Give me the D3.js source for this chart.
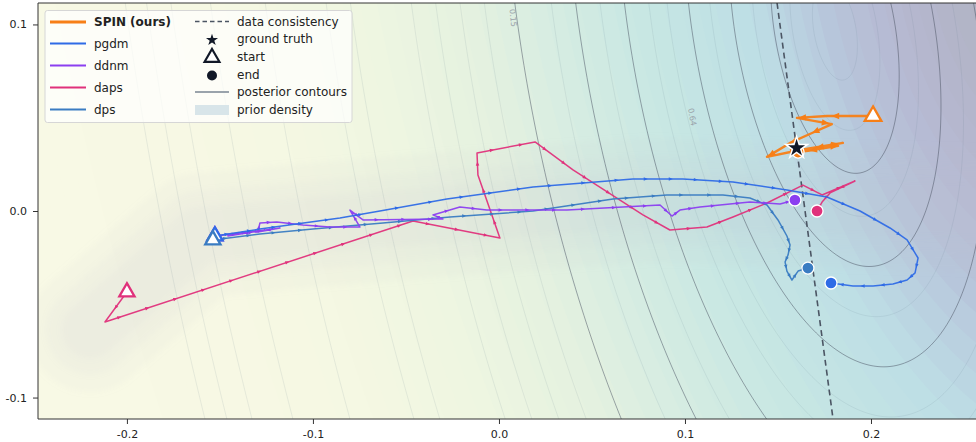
<!DOCTYPE html>
<html><head><meta charset="utf-8">
<script src="https://cdn.jsdelivr.net/npm/d3@7/dist/d3.min.js"></script>
<style>body{margin:0;background:#fff;} svg{display:block;font-family:"DejaVu Sans",sans-serif;}</style>
</head><body><svg id="c" width="976" height="442"></svg>
<script>
// ---------- data ----------
const xTicks = [-0.2, -0.1, 0.0, 0.1, 0.2];
const xTickLabels = ["-0.2", "-0.1", "0.0", "0.1", "0.2"];
const yTicks = [-0.1, 0.0, 0.1];
const yTickLabels = ["-0.1", "0.0", "0.1"];

const methods = ["SPIN (ours)", "pgdm", "ddnm", "daps", "dps"];
const methodColors = ["#f77f17", "#2f6be6", "#8b3ff0", "#e0317b", "#3a7cc2"];

const spinPath = [[0.2011,0.0509],[0.1763,0.0509],[0.1602,0.0499],[0.1790,0.0466],[0.1683,0.0418],[0.1565,0.0365],[0.1441,0.0290],[0.1618,0.0327],[0.1849,0.0365],[0.1699,0.0338],[0.1823,0.0349],[0.1661,0.0322],[0.1608,0.0316]];
const pgdmPath = [[-0.1527,-0.0134],[-0.1285,-0.0097],[-0.0855,-0.0038],[-0.0640,0.0],[-0.0280,0.0064],[0.0183,0.0129],[0.0720,0.0172],[0.0989,0.0172],[0.1258,0.0155],[0.1548,0.0113],[0.1763,0.0075],[0.1941,0.0],[0.2102,-0.0091],[0.2194,-0.0155],[0.2253,-0.0252],[0.2237,-0.0332],[0.2194,-0.0370],[0.2118,-0.0391],[0.2011,-0.0402],[0.1903,-0.0402],[0.1785,-0.0386]];
const ddnmPath = [[-0.1527,-0.0134],[-0.1328,-0.0113],[-0.1489,-0.0129],[-0.1258,-0.0102],[-0.1457,-0.0134],[-0.1220,-0.0097],[-0.1403,-0.0123],[-0.1177,-0.0091],[-0.1296,-0.0113],[-0.1285,-0.0064],[-0.1194,-0.0059],[-0.1054,-0.0075],[-0.0909,-0.0086],[-0.0747,-0.0086],[-0.0801,0.0005],[-0.0731,-0.0048],[-0.0301,-0.0043],[-0.0355,-0.0021],[-0.0210,0.0021],[-0.0065,0.0005],[0.0366,0.0005],[0.0866,0.0032],[0.0930,-0.0027],[0.0973,0.0005],[0.1081,0.0021],[0.1349,0.0048],[0.1511,0.0038],[0.1591,0.0059]];
const dapsPath = [[-0.2000,-0.0434],[-0.2118,-0.0595],[-0.0462,-0.0054],[0.0005,-0.0145],[-0.0113,0.0193],[-0.0118,0.0311],[0.0194,0.0370],[0.0398,0.0220],[0.0774,-0.0021],[0.0919,-0.0102],[0.1118,-0.0086],[0.1258,-0.0032],[0.1441,0.0043],[0.1634,0.0139],[0.1737,0.0086],[0.1914,0.0161],[0.1780,0.0097],[0.1737,0.0048],[0.1710,0.0]];
const dpsPath = [[-0.1538,-0.0155],[-0.1285,-0.0123],[-0.1000,-0.0097],[-0.0624,-0.0064],[-0.0263,-0.0032],[0.0183,0.0],[0.0613,0.0064],[0.0903,0.0086],[0.1204,0.0086],[0.1349,0.0070],[0.1441,0.0032],[0.1500,-0.0048],[0.1548,-0.0134],[0.1565,-0.0182],[0.1554,-0.0236],[0.1538,-0.0273],[0.1548,-0.0322],[0.1575,-0.0370],[0.1608,-0.0322],[0.1661,-0.0306]];
const paths = [spinPath, pgdmPath, ddnmPath, dapsPath, dpsPath];

const groundTruth = [0.1600, 0.0338];
const dataConsistency = [[0.1495, 0.1115], [0.1796, -0.1115]];

// posterior (Gaussian, tilted): centre, minor/major std, tilt in degrees
const posteriorCenter = [0.1806, 0.0970];
const posteriorStd = [0.0323, 0.0778];
const posteriorTilt = 10;
const posteriorThinLevels = [0.35, 0.7, 1.3, 2.0, 2.7, 3.0, 3.8, 4.6, 5.7, 6.1, 6.5, 6.9, 7.9, 8.3, 9.3, 10.2, 10.85, 11.25, 11.6];
const posteriorDarkLevels = [1.0, 1.65, 2.35, 3.4, 4.2, 5.2];
const contourLabels = [{x:0.0075, y:0.1035, text:"0.15", rot:84}, {x:0.1038, y:0.0504, text:"0.64", rot:79}];

// background (log-likelihood field)
const fieldCenter = [0.2705, 0.1131];
const fieldStd = [0.0591, 0.1180];
const fieldTilt = 15;
const fieldStops = [0, 0.6, 1.1, 1.6, 2.0, 2.4, 3.2, 4.0, 4.8, 5.8, 7, 10];
const fieldColors = ["#b0b3c0", "#b3b5c9", "#b6b9d2", "#b7c4da", "#bad3e1", "#bedfe5", "#c6e6e3", "#d4ece2", "#e4f1e0", "#eff6e1", "#f6f8e3", "#f9f9e6"];

// prior density ridge
const priorRidge = [[-0.2199,-0.0638],[-0.1608,-0.0129],[-0.0801,-0.0059],[0.0005,0.0005],[0.0812,0.0059],[0.1618,0.0032],[0.2586,0.0005]];
const priorWidth = 0.02;
const priorLevels = [0.25, 0.5, 0.75];

// ---------- setup ----------
const svg = d3.select("#c");
const x = d3.scaleLinear().domain([-0.2478, 0.2715]).range([38, 1004]);
const y = d3.scaleLinear().domain([-0.1115, 0.1115]).range([419, 3]);
const L = 38, T = 3, R = 976, B = 419;

const defs = svg.append("defs");
defs.append("clipPath").attr("id", "clip").append("rect").attr("x", L).attr("y", T).attr("width", R - L).attr("height", B - T);
defs.append("filter").attr("id", "blur").attr("x", "-10%").attr("y", "-30%").attr("width", "120%").attr("height", "160%")
  .append("feGaussianBlur").attr("stdDeviation", 3);

const plot = svg.append("g").attr("clip-path", "url(#clip)");

function mahal(px, py, c, s, deg) {
  const t = deg * Math.PI / 180, dx = px - c[0], dy = py - c[1];
  const u = dx * Math.cos(t) + dy * Math.sin(t);
  const v = dx * Math.sin(t) - dy * Math.cos(t);
  return Math.sqrt((u / s[0]) ** 2 + (v / s[1]) ** 2);
}
function priorDensity(px, py) {
  let d2 = Infinity;
  for (let k = 0; k < priorRidge.length - 1; k++) {
    const a = priorRidge[k], b = priorRidge[k + 1];
    const vx = b[0] - a[0], vy = b[1] - a[1];
    let t = ((px - a[0]) * vx + (py - a[1]) * vy) / (vx * vx + vy * vy);
    t = Math.max(0, Math.min(1, t));
    const ex = px - (a[0] + t * vx), ey = py - (a[1] + t * vy);
    d2 = Math.min(d2, ex * ex + ey * ey);
  }
  return Math.exp(-d2 / (2 * priorWidth * priorWidth));
}

const step = 3, gx0 = L - 12, gy0 = T - 12;
const nx = Math.ceil((R + 30 - gx0) / step), ny = Math.ceil((B + 12 - gy0) / step);
function grid(f) {
  const v = new Float64Array(nx * ny);
  for (let j = 0; j < ny; j++) for (let i = 0; i < nx; i++)
    v[j * nx + i] = f(x.invert(gx0 + i * step), y.invert(gy0 + j * step));
  return v;
}
const geo = d3.geoPath(d3.geoIdentity().scale(step).translate([gx0 - step / 2, gy0 - step / 2]));
const contours = d3.contours().size([nx, ny]);

// background filled field
const fieldColor = d3.scaleLinear().domain(fieldStops).range(fieldColors).clamp(true);
plot.append("rect").attr("x", L).attr("y", T).attr("width", R - L).attr("height", B - T).attr("fill", fieldColor(10));
const fVals = grid((a, b) => -mahal(a, b, fieldCenter, fieldStd, fieldTilt));
const fLevels = d3.range(0.15, 10, 0.15).reverse();
plot.append("g").selectAll("path")
  .data(contours.thresholds(fLevels.map(r => -r))(fVals).sort((a, b) => a.value - b.value))
  .join("path").attr("d", geo).attr("fill", d => fieldColor(-d.value)).attr("stroke", "none");

// prior density band
const pVals = grid(priorDensity);
plot.append("g").attr("filter", "url(#blur)").selectAll("path")
  .data(contours.thresholds(priorLevels)(pVals))
  .join("path").attr("d", geo).attr("fill", "#b4bcc2").attr("fill-opacity", 0.07);

// posterior contours
const postVals = grid((a, b) => -mahal(a, b, posteriorCenter, posteriorStd, posteriorTilt));
plot.append("g").selectAll("path")
  .data(contours.thresholds(posteriorThinLevels.map(r => -r))(postVals))
  .join("path").attr("d", geo).attr("fill", "none").attr("stroke", "#5f7385").attr("stroke-opacity", 0.2).attr("stroke-width", 0.6);
plot.append("g").selectAll("path")
  .data(contours.thresholds(posteriorDarkLevels.map(r => -r))(postVals))
  .join("path").attr("d", geo).attr("fill", "none").attr("stroke", "#4a5262").attr("stroke-opacity", 0.5).attr("stroke-width", 1);
plot.append("g").selectAll("text").data(contourLabels).join("text")
  .attr("transform", d => `translate(${x(d.x)},${y(d.y)}) rotate(${d.rot})`)
  .attr("text-anchor", "middle").attr("dominant-baseline", "central")
  .attr("font-size", 8).attr("fill", "#9aa3aa").text(d => d.text);

// data consistency
plot.append("path").datum(dataConsistency)
  .attr("d", d3.line().x(d => x(d[0])).y(d => y(d[1])))
  .attr("fill", "none").attr("stroke", "#4b5563").attr("stroke-width", 1.6).attr("stroke-dasharray", "6,4");

// trajectories
const line = d3.line().x(d => x(d[0])).y(d => y(d[1]));
const order = [3, 4, 2, 1, 0];
order.forEach(k => {
  const p = paths[k], col = methodColors[k];
  const g = plot.append("g");
  g.append("path").datum(p).attr("d", line).attr("fill", "none").attr("stroke", col)
    .attr("stroke-width", k === 0 ? 2.4 : 1.5).attr("stroke-linejoin", "round").attr("stroke-opacity", 0.95);
  const arrows = [];
  for (let i = 0; i < p.length - 1; i++) {
    const x0 = x(p[i][0]), y0 = y(p[i][1]), x1 = x(p[i + 1][0]), y1 = y(p[i + 1][1]);
    const len = Math.hypot(x1 - x0, y1 - y0);
    if (len < 6) continue;
    const n = k === 0 ? 1 : Math.max(1, Math.round(len / 30));
    const ang = Math.atan2(y1 - y0, x1 - x0) * 180 / Math.PI;
    for (let j = 0; j < n; j++) {
      const f = k === 0 ? 0.8 : (j + 0.5) / n;
      arrows.push([x0 + (x1 - x0) * f, y0 + (y1 - y0) * f, ang]);
    }
  }
  const s = k === 0 ? 1.4 : 0.75;
  g.selectAll("path.arr").data(arrows).join("path").attr("class", "arr")
    .attr("d", `M${3.2*s},0L${-2.2*s},${-2.3*s}L${-2.2*s},${2.3*s}Z`)
    .attr("transform", d => `translate(${d[0]},${d[1]}) rotate(${d[2]})`).attr("fill", col);
});

// start markers
const tri = d3.symbol().type(d3.symbolTriangle);
[3, 2, 1, 4, 0].forEach(k => {
  const p = paths[k][0];
  plot.append("path").attr("d", tri.size(k === 0 ? 120 : 100)())
    .attr("transform", `translate(${x(p[0])},${y(p[1])})`)
    .attr("fill", "#fff").attr("stroke", methodColors[k]).attr("stroke-width", 2.3).attr("stroke-linejoin", "miter");
});
// end markers
[3, 2, 4, 1, 0].forEach(k => {
  const p = paths[k][paths[k].length - 1];
  plot.append("circle").attr("cx", x(p[0])).attr("cy", y(p[1])).attr("r", 6)
    .attr("fill", methodColors[k]).attr("stroke", "#fff").attr("stroke-width", 1.3);
});
// ground truth
plot.append("path").attr("d", d3.symbol().type(d3.symbolStar).size(150)())
  .attr("transform", `translate(${x(groundTruth[0])},${y(groundTruth[1])})`)
  .attr("fill", "#111827").attr("stroke", "#fff").attr("stroke-width", 1.5);

// ---------- axes ----------
const ax = svg.append("g").attr("transform", `translate(0,${B})`)
  .call(d3.axisBottom(x).tickValues(xTicks).tickFormat((d, i) => xTickLabels[i]).tickSize(5).tickPadding(6));
const ay = svg.append("g").attr("transform", `translate(${L},0)`)
  .call(d3.axisLeft(y).tickValues(yTicks).tickFormat((d, i) => yTickLabels[i]).tickSize(5).tickPadding(6));
[ax, ay].forEach(a => {
  a.select(".domain").remove();
  a.selectAll("line").attr("stroke", "#333");
  a.selectAll("text").attr("font-family", "DejaVu Sans").attr("font-size", 11).attr("fill", "#222");
});
svg.append("path").attr("d", `M${R},${T}H${L}V${B}H${R}`).attr("fill", "none").attr("stroke", "#333").attr("stroke-width", 1);

// ---------- legend ----------
const lg = svg.append("g").attr("font-size", 12).attr("fill", "#222");
lg.append("rect").attr("x", 45).attr("y", 10.5).attr("width", 307).attr("height", 112).attr("rx", 2.5)
  .attr("fill", "#fff").attr("fill-opacity", 0.72).attr("stroke", "#d6d6d6").attr("stroke-width", 1);
const rows1 = [22, 43.5, 65.5, 87.5, 109.5];
methods.forEach((m, i) => {
  lg.append("line").attr("x1", 50).attr("x2", 86).attr("y1", rows1[i]).attr("y2", rows1[i])
    .attr("stroke", methodColors[i]).attr("stroke-width", i === 0 ? 3 : 2.2);
  lg.append("text").attr("x", 94).attr("y", rows1[i]).attr("dominant-baseline", "central")
    .attr("font-weight", i === 0 ? "bold" : "normal").text(m);
});
const c2 = 212, t2 = 237;
const rows2 = [21.5, 39, 56.5, 74.5, 92, 110];
const labels2 = ["data consistency", "ground truth", "start", "end", "posterior contours", "prior density"];
lg.append("line").attr("x1", 195).attr("x2", 229).attr("y1", rows2[0]).attr("y2", rows2[0])
  .attr("stroke", "#4b5563").attr("stroke-width", 1.5).attr("stroke-dasharray", "4.5,3");
lg.append("path").attr("d", d3.symbol().type(d3.symbolStar).size(45)()).attr("transform", `translate(${c2},${rows2[1] + 1})`).attr("fill", "#111827");
lg.append("path").attr("d", tri.size(95)()).attr("transform", `translate(${c2},${rows2[2] + 1})`)
  .attr("fill", "#fff").attr("stroke", "#111827").attr("stroke-width", 2.2);
lg.append("circle").attr("cx", c2).attr("cy", rows2[3] + 1).attr("r", 5).attr("fill", "#111827");
lg.append("line").attr("x1", 195).attr("x2", 229).attr("y1", rows2[4]).attr("y2", rows2[4])
  .attr("stroke", "#9aa3ab").attr("stroke-width", 1.8);
lg.append("rect").attr("x", 195).attr("y", rows2[5] - 5).attr("width", 34).attr("height", 10).attr("fill", "#d8e5e9");
labels2.forEach((t, i) => lg.append("text").attr("x", t2).attr("y", rows2[i]).attr("dominant-baseline", "central").text(t));
</script></body></html>
